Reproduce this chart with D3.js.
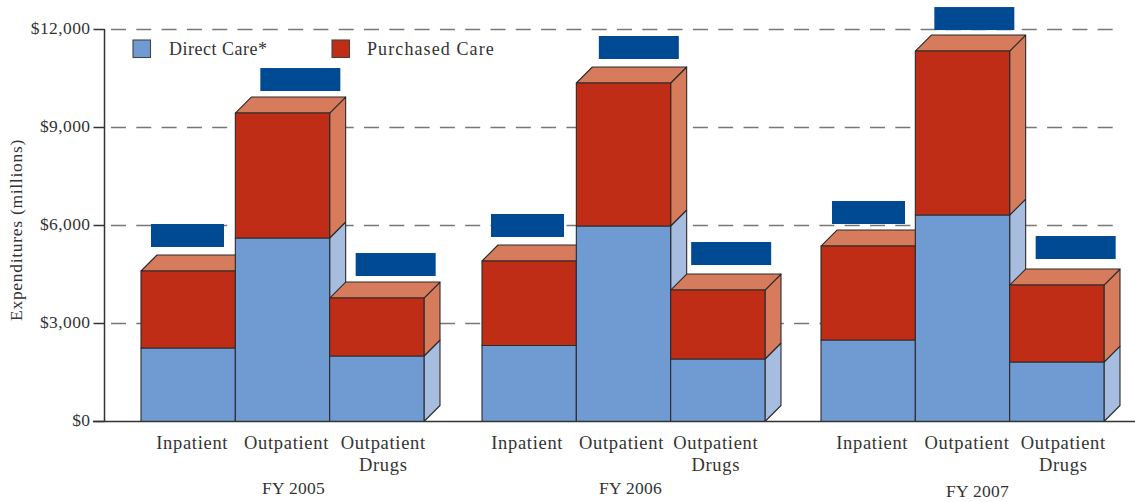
<!DOCTYPE html>
<html>
<head>
<meta charset="utf-8">
<script src="https://cdn.jsdelivr.net/npm/d3@7/dist/d3.min.js"></script>
<style>
  html, body { margin: 0; padding: 0; background: #fff; }
  text { font-family: "Liberation Serif", serif; fill: #333; }
</style>
</head>
<body>
<svg id="chart" width="1135" height="502"></svg>
<script>
// Military health expenditures, in millions of dollars
const years = ["FY 2005", "FY 2006", "FY 2007"];
const categories = ["Inpatient", "Outpatient", "Outpatient Drugs"];
const directCare = [
  [2250, 5617, 2005],
  [2326, 5985, 1913],
  [2495, 6320, 1821]
];
const purchasedCare = [
  [2357, 3826, 1775],
  [2587, 4377, 2112],
  [2877, 5020, 2357]
];
const yTicks = [0, 3000, 6000, 9000, 12000];
const seriesNames = ["Direct Care*", "Purchased Care"];

// Placement of the value plates relative to each bar: [dx, width, gap above top]
const plateOffsets = [
  [[10, 73, 24], [25, 80, 22], [26, 80, 22]],
  [[9, 73, 24], [22.5, 80, 24], [20.5, 80, 25]],
  [[11, 73, 22], [19, 80, 21], [26, 80, 26]]
];
const labelShift = [[4, 4, 6.5], [-2, -2, -2], [4, 4.5, 6.5]];
const yearLabelPos = [[293.5, 494], [630.5, 494], [977.5, 497]];

const colors = {
  direct: "#709bd2", directSide: "#a6bde0",
  purchased: "#bf2d17", purchasedSide: "#d67c5c",
  plate: "#004a93", edge: "#2a2a2a", grid: "#777", axis: "#333"
};

const svg = d3.select("#chart");
const y = d3.scaleLinear().domain([0, 12000]).range([421.5, 29.5]);
const group = d3.scaleOrdinal().domain(years).range([141, 482, 821]);
const inner = d3.scaleBand().domain(categories).range([0, 283]);
const depth = 16;
const plateH = 23;

// Horizontal dashed gridlines behind the bars
svg.append("g").selectAll("line")
  .data(yTicks.filter(d => d > 0))
  .join("line")
  .attr("x1", 111).attr("x2", 1116)
  .attr("y1", d => y(d)).attr("y2", d => y(d))
  .attr("stroke", colors.grid).attr("stroke-width", 1.5)
  .attr("stroke-dasharray", "15 10.3");

// Left axis with dollar labels
const axis = svg.append("g")
  .attr("transform", "translate(104.5,-0.5)")
  .call(d3.axisLeft(y).tickValues(yTicks).tickSize(11).tickPadding(3)
    .tickFormat(d => "$" + d3.format(",")(d)));
axis.selectAll("path, line").attr("stroke", colors.axis).attr("stroke-width", 1.5);
axis.select(".domain").attr("d", `M0,${y(12000)}V${y(0)}`);
axis.selectAll("text")
  .attr("font-size", 17.5).attr("font-family", "Liberation Serif").attr("fill", "#333")
  .attr("letter-spacing", 0.4)
  .attr("dy", "0.28em");

// Flat polygon helper for the extruded faces of the bars
const poly = (g, pts, fill) => g.append("polygon")
  .attr("points", pts.map(p => p.join(",")).join(" "))
  .attr("fill", fill).attr("stroke", colors.edge).attr("stroke-width", 1.1)
  .attr("stroke-linejoin", "round");

years.forEach((yr, gi) => {
  const g = svg.append("g");
  categories.forEach((cat, ci) => {
    const x0 = group(yr) + inner(cat);
    const x1 = x0 + inner.bandwidth();
    const dTop = y(directCare[gi][ci]);
    const tTop = y(directCare[gi][ci] + purchasedCare[gi][ci]);
    const base = y(0);

    // side faces, top face, then the front faces over them
    poly(g, [[x1, base], [x1 + depth, base - depth], [x1 + depth, dTop - depth], [x1, dTop]], colors.directSide);
    poly(g, [[x1, dTop], [x1 + depth, dTop - depth], [x1 + depth, tTop - depth], [x1, tTop]], colors.purchasedSide);
    poly(g, [[x0, tTop], [x0 + depth, tTop - depth], [x1 + depth, tTop - depth], [x1, tTop]], colors.purchasedSide);
    poly(g, [[x0, dTop], [x1, dTop], [x1, base], [x0, base]], colors.direct);
    poly(g, [[x0, tTop], [x1, tTop], [x1, dTop], [x0, dTop]], colors.purchased);
  });
});

// Value plates sit above every bar and over the gridlines
years.forEach((yr, gi) => {
  categories.forEach((cat, ci) => {
    const [dx, w, gap] = plateOffsets[gi][ci];
    const tTop = y(directCare[gi][ci] + purchasedCare[gi][ci]);
    svg.append("rect")
      .attr("x", group(yr) + inner(cat) + dx)
      .attr("y", tTop - gap - plateH)
      .attr("width", w).attr("height", plateH)
      .attr("fill", colors.plate);
  });
});

// Baseline
svg.append("line")
  .attr("x1", 93).attr("x2", 1135)
  .attr("y1", y(0)).attr("y2", y(0))
  .attr("stroke", colors.axis).attr("stroke-width", 1.5);

// Category labels under each bar, wrapped onto two lines where needed
years.forEach((yr, gi) => {
  categories.forEach((cat, ci) => {
    const cx = group(yr) + inner(cat) + inner.bandwidth() / 2 + labelShift[gi][ci];
    const words = cat === "Outpatient Drugs" ? ["Outpatient", "Drugs"] : [cat];
    words.forEach((w, li) => {
      svg.append("text")
        .attr("x", cx).attr("y", 449 + li * 22)
        .attr("text-anchor", "middle").attr("font-size", 18.5)
        .attr("letter-spacing", 0.7)
        .text(w);
    });
  });
  svg.append("text")
    .attr("x", yearLabelPos[gi][0]).attr("y", yearLabelPos[gi][1])
    .attr("text-anchor", "middle").attr("font-size", 17.5)
    .attr("letter-spacing", 0.3)
    .text(yr);
});

// Rotated axis title
svg.append("text")
  .attr("transform", "translate(22,230) rotate(-90)")
  .attr("text-anchor", "middle").attr("font-size", 17.5)
  .attr("letter-spacing", 0.7)
  .text("Expenditures (millions)");

// Legend
const legend = svg.append("g");
[[133, 169, colors.direct, 0.5], [332, 367, colors.purchased, 1.1]].forEach(([sx, tx, fill, ls], i) => {
  legend.append("rect")
    .attr("x", sx).attr("y", 40).attr("width", 17.5).attr("height", 17.5)
    .attr("fill", fill).attr("stroke", "#444").attr("stroke-width", 1.1);
  legend.append("text")
    .attr("x", tx).attr("y", 54.5).attr("font-size", 18)
    .attr("letter-spacing", ls)
    .text(seriesNames[i]);
});
</script>
</body>
</html>
